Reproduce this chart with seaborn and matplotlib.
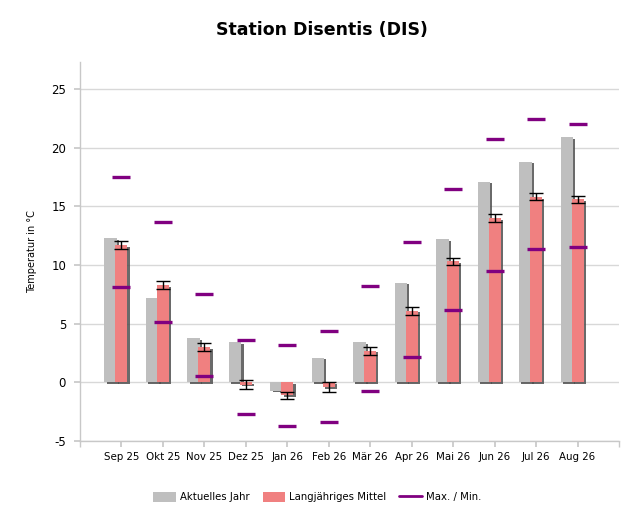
import numpy as np
import pandas as pd
import matplotlib
matplotlib.use("Agg")
import matplotlib.pyplot as plt
import matplotlib.patheffects as pe
from matplotlib.patches import Patch
from matplotlib.lines import Line2D
import seaborn as sns

months = ["Sep 25", "Okt 25", "Nov 25", "Dez 25", "Jan 26", "Feb 26",
          "Mär 26", "Apr 26", "Mai 26", "Jun 26", "Jul 26", "Aug 26"]
aktuell = [12.3, 7.2, 3.75, 3.4, -0.7, 2.1, 3.4, 8.5, 12.2, 17.1, 18.8, 20.9]
mittel = [11.7, 8.3, 3.0, -0.2, -1.1, -0.4, 2.7, 6.1, 10.3, 14.0, 15.8, 15.6]
mittel_err = [0.35, 0.35, 0.35, 0.4, 0.3, 0.45, 0.35, 0.35, 0.3, 0.35, 0.3, 0.3]
maxima = [17.5, 13.7, 7.5, 3.65, 3.2, 4.4, 8.2, 12.0, 16.45, 20.7, 22.4, 22.0]
minima = [8.1, 5.1, 0.5, -2.7, -3.7, -3.4, -0.75, 2.2, 6.2, 9.5, 11.4, 11.5]

idx = np.arange(len(months))
df = pd.DataFrame({"pos": idx, "aktuell": aktuell, "mittel": mittel,
                   "err": mittel_err, "max": maxima, "min": minima})

sns.set_theme(style="white")
plt.rcParams["font.family"] = ["DejaVu Sans"]
plt.rcParams["axes.unicode_minus"] = False
for k in ["text.color", "axes.labelcolor", "xtick.color", "ytick.color"]:
    plt.rcParams[k] = "black"

fig = plt.figure(figsize=(6.43, 5.29), dpi=100)
ax = fig.add_axes([80/643, 1-441/529, (619-80)/643, (441-62)/529])

gray = "#BFBFBF"
red = "#F08080"
purple = "#800080"
shadow = [pe.SimplePatchShadow(offset=(1.6, -1.2), shadow_rgbFace="#505050", alpha=0.85), pe.Normal()]

sns.barplot(x=df["pos"] - 0.26, y=df["aktuell"], native_scale=True, width=0.3,
            color=gray, saturation=1, ax=ax, zorder=2, edgecolor="none")
n_gray = len(ax.patches)
sns.barplot(x=df["pos"], y=df["mittel"], native_scale=True, width=0.29,
            color=red, saturation=1, ax=ax, zorder=3, edgecolor="none")
for i, p in enumerate(ax.patches):
    p.set_path_effects(shadow)
    p.set_zorder(2 if i < n_gray else 3)

ax.errorbar(df["pos"], df["mittel"], yerr=df["err"], fmt="none", ecolor="black",
            elinewidth=1.0, capsize=5, capthick=1.0, zorder=5)

for col in ["max", "min"]:
    sns.scatterplot(x=df["pos"], y=df[col], marker="_", s=170, color=purple,
                    linewidth=2.4, ax=ax, zorder=6, legend=False)

ax.set_xlim(-1, 12)
ax.set_ylim(-5, 27.3)
ax.set_xticks(idx)
ax.set_xticklabels(months)
ax.set_xticks([-1, 12], minor=True)
ax.set_yticks([-5, 0, 5, 10, 15, 20, 25])
ax.set_xlabel("")
ax.set_ylabel("Temperatur in °C", fontsize=7)
ax.yaxis.set_label_coords((37 - 80) / 539, 0.5)
ax.tick_params(axis="x", which="both", bottom=True, length=4, color="#C8C8C8",
               labelsize=7.4, pad=4)
ax.tick_params(axis="y", left=True, length=4, color="#C8C8C8", labelsize=8.5, pad=6)
ax.grid(axis="y", color="#D8D8D8", linewidth=1.0, zorder=0)
ax.set_axisbelow(True)
for s in ["top", "right"]:
    ax.spines[s].set_visible(False)
for s in ["left", "bottom"]:
    ax.spines[s].set_color("#C8C8C8")
    ax.spines[s].set_linewidth(1.0)

fig.suptitle("Station Disentis (DIS)", x=0.5, y=1-30/529, va="center",
             fontsize=12.5, fontweight="bold", color="black")

handles = [Patch(facecolor=gray, edgecolor="none"),
           Patch(facecolor=red, edgecolor="none"),
           Line2D([0], [0], color=purple, linewidth=2)]
ax.legend(handles, ["Aktuelles Jahr", "Langjähriges Mittel", "Max. / Min."],
          loc="center", bbox_to_anchor=(0.44, -0.148), ncol=3, frameon=False,
          fontsize=7.3, handlelength=2.2, handleheight=1.1, columnspacing=1.3,
          handletextpad=0.4)

fig.savefig("out.png", dpi=100)
